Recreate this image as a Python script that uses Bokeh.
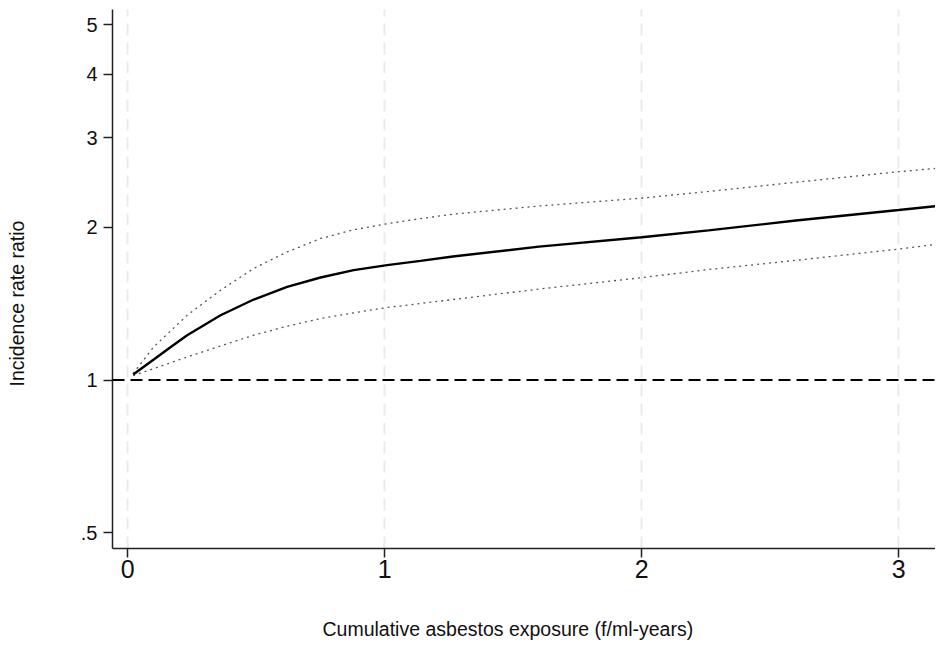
from bokeh.plotting import figure
from bokeh.models import Range1d, FixedTicker, Span, Title
from bokeh.embed import file_html
from bokeh.resources import INLINE

# ---- data ----
exposure = [0.021, 0.101, 0.166, 0.231, 0.361, 0.490, 0.620, 0.750, 0.879, 1.009, 1.139,
            1.265, 1.6, 2.0, 2.26, 2.6, 3.0, 3.15]
irr = [1.025, 1.097, 1.16, 1.225, 1.341, 1.440, 1.525, 1.591, 1.645, 1.683, 1.716,
       1.75, 1.83, 1.91, 1.97, 2.06, 2.16, 2.20]
irr_upper = [1.03, 1.162, 1.248, 1.341, 1.502, 1.658, 1.787, 1.899, 1.975, 2.030, 2.078,
             2.12, 2.20, 2.28, 2.35, 2.45, 2.57, 2.61]
irr_lower = [1.02, 1.053, 1.081, 1.11, 1.167, 1.225, 1.276, 1.321, 1.356, 1.389, 1.414,
             1.44, 1.51, 1.59, 1.65, 1.72, 1.81, 1.85]
x_ticks = [0, 1, 2, 3]
y_ticks = [0.5, 1, 2, 3, 4, 5]
y_tick_labels = [".5", "1", "2", "3", "4", "5"]
reference_irr = 1.0
x_title = "Cumulative asbestos exposure (f/ml-years)"
y_title = "Incidence rate ratio"

FONT = "Liberation Sans"

p = figure(width=935, height=640,
           x_range=Range1d(-0.0595, 3.143), y_range=Range1d(0.466, 5.36),
           y_axis_type="log", output_backend="svg", toolbar_location=None,
           min_border_left=112, min_border_right=0, min_border_top=9, min_border_bottom=92)
p.outline_line_color = None
p.background_fill_color = "white"
p.border_fill_color = "white"

# grid
p.ygrid.grid_line_color = None
p.xgrid.ticker = FixedTicker(ticks=x_ticks)
p.xgrid.grid_line_color = "#ebebeb"
p.xgrid.grid_line_width = 2
p.xgrid.grid_line_dash = "12 7"

# axes
p.xaxis.ticker = FixedTicker(ticks=x_ticks)
p.yaxis.ticker = FixedTicker(ticks=y_ticks)
p.yaxis.major_label_overrides = {t: l for t, l in zip(y_ticks, y_tick_labels)}
for ax in (p.xaxis, p.yaxis):
    ax.axis_line_color = "#222222"
    ax.axis_line_width = 1.5
    ax.major_tick_line_color = "#222222"
    ax.major_tick_line_width = 1.5
    ax.major_tick_out = 9
    ax.major_tick_in = 0
    ax.minor_tick_line_color = None
    ax.major_label_text_font = FONT
    ax.major_label_text_color = "#111111"
    # tiny blank axis label used only as spacing before the title
    ax.axis_label = " "
    ax.axis_label_text_font_size = "1px"
p.xaxis.major_label_text_font_size = "25px"
p.xaxis.major_label_standoff = 2
p.xaxis.axis_label_standoff = 31
p.yaxis.major_label_text_font_size = "20px"
p.yaxis.major_label_standoff = 6
p.yaxis.axis_label_standoff = 46

# reference line
p.add_layout(Span(location=reference_irr, dimension="width", line_color="black",
                  line_width=2, line_dash="12 6"))

# curves
p.line(exposure, irr_upper, line_color="#555555", line_width=1.3, line_dash="2 4")
p.line(exposure, irr_lower, line_color="#555555", line_width=1.3, line_dash="2 4")
p.line(exposure, irr, line_color="black", line_width=2.4)

# axis titles
p.add_layout(Title(text=x_title, align="left", offset=210, text_font=FONT,
                   text_font_size="19.5px", text_font_style="normal",
                   text_color="#111111", standoff=0), "below")
p.add_layout(Title(text=y_title, align="left", offset=162, text_font=FONT,
                   text_font_size="19.5px", text_font_style="normal",
                   text_color="#111111", standoff=0), "left")

open("out.html", "w").write(file_html(p, INLINE))
